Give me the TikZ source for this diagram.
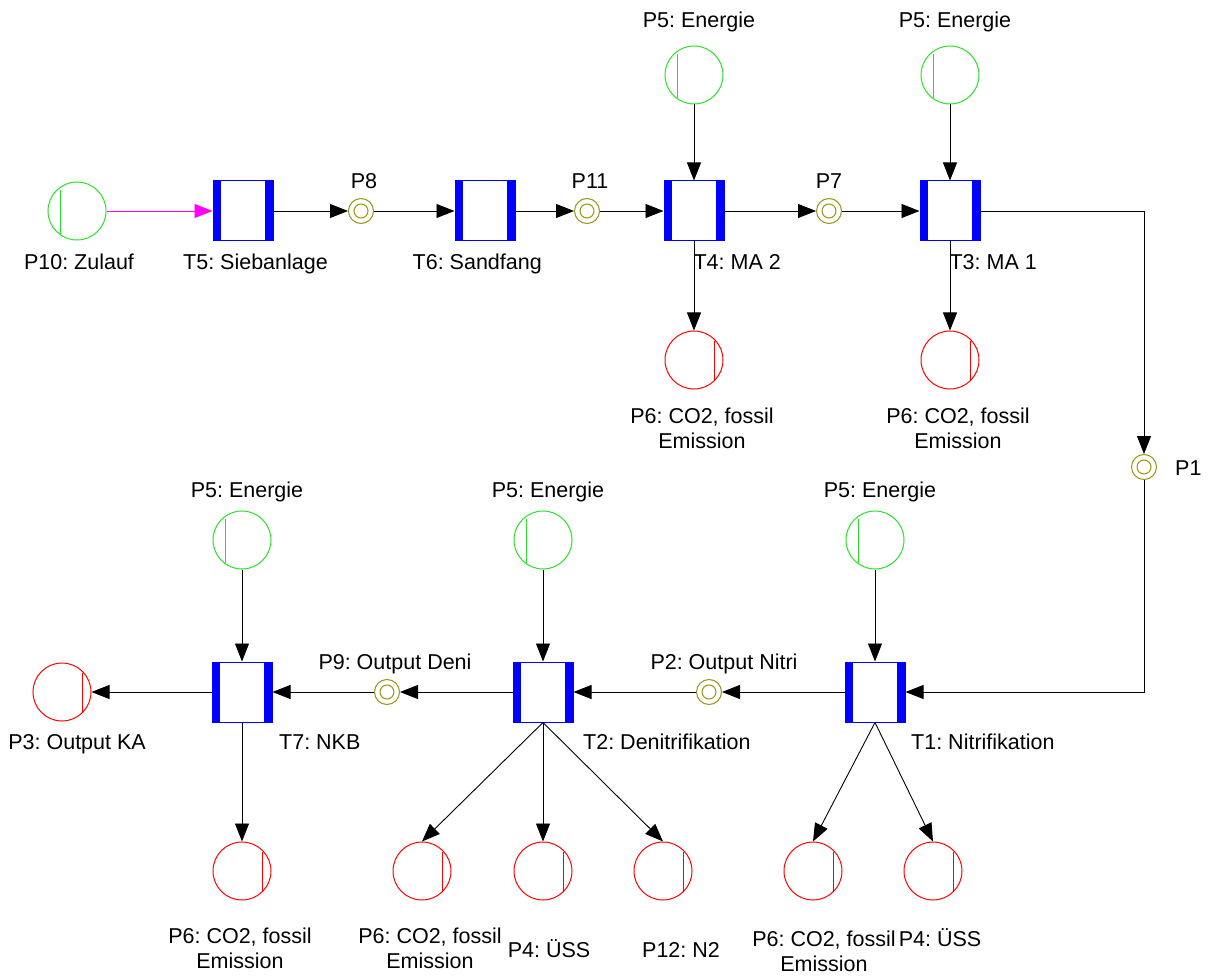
\documentclass[tikz,border=0pt]{standalone}
\usepackage{fontspec}
\setmainfont{Liberation Sans}
\frenchspacing
\usetikzlibrary{arrows.meta}
\definecolor{pgreen}{RGB}{40,225,40}
\definecolor{pred}{RGB}{255,0,0}
\definecolor{polive}{RGB}{150,150,20}
\definecolor{tblue}{RGB}{0,0,255}
\definecolor{pmag}{RGB}{255,0,255}

\begin{document}
\begin{tikzpicture}[x=1pt,y=-1pt,
  every node/.style={font=\fontsize{21.5}{25}\selectfont},
  trans/.style={rectangle, draw=tblue, line width=1pt, fill=white,
    minimum width=60pt, minimum height=60pt, inner sep=0pt,
    path picture={
      \fill[tblue] (path picture bounding box.north west) rectangle ++(8pt,-60pt);
      \fill[tblue] (path picture bounding box.north east) rectangle ++(-8pt,-60pt);}},
  place/.style={circle, line width=1pt, minimum size=58pt, inner sep=0pt},
  srcplace/.style={place, draw=pgreen,
    path picture={\draw[pgreen, line width=1pt] (path picture bounding box.center) ++(-17pt,21pt) -- ++(0pt,-44pt);}},
  sinkplace/.style={place, draw=pred,
    path picture={\draw[pred, line width=1pt] (path picture bounding box.center) ++(20pt,19pt) -- ++(0pt,-44pt);}},
  bufplace/.style={circle, draw=polive, line width=1pt, minimum size=25pt, inner sep=0pt,
    path picture={\draw[polive, line width=1pt] (path picture bounding box.center) circle (7pt);}},
  arc/.style={line width=0.9pt, -{Triangle[length=18pt,width=14pt]}},
  lbl/.style={inner sep=0pt}
]
\useasboundingbox[fill=white] (0,0) rectangle (1208,976);

% ---- transitions ----
\node[trans] (t5) at (243,211) {};
\node[trans] (t6) at (485,211) {};
\node[trans] (t4) at (694,211) {};
\node[trans] (t3) at (950,211) {};
\node[trans] (t1) at (875,692) {};
\node[trans] (t2) at (543,692) {};
\node[trans] (t7) at (242,692) {};

% ---- places ----
\node[srcplace] (p10) at (77,211) {};
\node[srcplace] (p5a) at (694,75) {};
\node[srcplace] (p5b) at (950,75) {};
\node[sinkplace] (p6a) at (694,360) {};
\node[sinkplace] (p6b) at (950,360) {};
\node[bufplace] (p8) at (361,211) {};
\node[bufplace] (p11) at (587,211) {};
\node[bufplace] (p7) at (829,211) {};
\node[bufplace] (p1) at (1144,467) {};
\node[bufplace] (p2) at (709,692) {};
\node[bufplace] (p9) at (387,692) {};
\node[srcplace] (p5c) at (242,540) {};
\node[srcplace] (p5d) at (543,540) {};
\node[srcplace] (p5e) at (875,540) {};
\node[sinkplace] (p3) at (62,692) {};
\node[sinkplace] (p6c) at (242,871) {};
\node[sinkplace] (p6d) at (422,871) {};
\node[sinkplace] (p4a) at (543,871) {};
\node[sinkplace] (p12) at (663,871) {};
\node[sinkplace] (p6e) at (813,871) {};
\node[sinkplace] (p4b) at (933,871) {};

% ---- arcs: upper line ----
\draw[arc, pmag] (p10.east) -- (t5.west);
\draw[arc] (t5.east) -- (p8.west);
\draw[arc] (p8.east) -- (t6.west);
\draw[arc] (t6.east) -- (p11.west);
\draw[arc] (p11.east) -- (t4.west);
\draw[arc] (t4.east) -- (p7.west);
\draw[arc] (p7.east) -- (t3.west);
\draw[arc] (p5a.south) -- (t4.north);
\draw[arc] (p5b.south) -- (t3.north);
\draw[arc] (t4.south) -- (p6a.north);
\draw[arc] (t3.south) -- (p6b.north);
\draw[arc] (t3.east) -| (p1.north);
\draw[arc] (p1.south) |- (t1.east);

% ---- arcs: lower line ----
\draw[arc] (t1.west) -- (p2.east);
\draw[arc] (p2.west) -- (t2.east);
\draw[arc] (t2.west) -- (p9.east);
\draw[arc] (p9.west) -- (t7.east);
\draw[arc] (t7.west) -- (p3.east);
\draw[arc] (p5c.south) -- (t7.north);
\draw[arc] (p5d.south) -- (t2.north);
\draw[arc] (p5e.south) -- (t1.north);
\draw[arc] (t7.south) -- (p6c.north);
\draw[arc] (t2.south) -- (p6d.north);
\draw[arc] (t2.south) -- (p4a.north);
\draw[arc] (t2.south) -- (p12.north);
\draw[arc] (t1.south) -- (p6e.north);
\draw[arc] (t1.south) -- (p4b.north);

% ---- labels ----
\node[lbl, anchor=base] (l-p10) at (79,270) {P10: Zulauf};
\node[lbl, anchor=base east] (l-t5) at (328,270) {T5: Siebanlage};
\node[lbl, anchor=base] (l-p8) at (364,189) {P8};
\node[lbl, anchor=base east] (l-t6) at (542,270) {T6: Sandfang};
\node[lbl, anchor=base] (l-p11) at (590,189) {P11};
\node[lbl, anchor=base east] (l-t4) at (781,270) {T4: MA 2};
\node[lbl, anchor=base] (l-p7) at (829,189) {P7};
\node[lbl, anchor=base east] (l-t3) at (1037,270) {T3: MA 1};
\node[lbl, anchor=base] (l-p5a) at (699,28) {P5: Energie};
\node[lbl, anchor=base] (l-p5b) at (955,28) {P5: Energie};
\node[lbl, align=center] (l-p6a) at (702,428) {P6: CO2, fossil\\Emission};
\node[lbl, align=center] (l-p6b) at (958,428) {P6: CO2, fossil\\Emission};
\node[lbl, anchor=base west] (l-p1) at (1175,475) {P1};
\node[lbl, anchor=base] (l-p5c) at (247,497) {P5: Energie};
\node[lbl, anchor=base] (l-p5d) at (548,497) {P5: Energie};
\node[lbl, anchor=base] (l-p5e) at (880,497) {P5: Energie};
\node[lbl, anchor=base] (l-p2) at (724,669) {P2: Output Nitri};
\node[lbl, anchor=base] (l-p9) at (395,669) {P9: Output Deni};
\node[lbl, anchor=base east] (l-p3) at (146,749) {P3: Output KA};
\node[lbl, anchor=base west] (l-t7) at (279,749) {T7: NKB};
\node[lbl, anchor=base west] (l-t2) at (583,749) {T2: Denitrifikation};
\node[lbl, anchor=base west] (l-t1) at (911,749) {T1: Nitrifikation};
\node[lbl, align=center] (l-p6c) at (240,948) {P6: CO2, fossil\\Emission};
\node[lbl, align=center] (l-p6d) at (430,948) {P6: CO2, fossil\\Emission};
\node[lbl, anchor=base] (l-p4a) at (549,957) {P4: ÜSS};
\node[lbl, anchor=base] (l-p12) at (681,957) {P12: N2};
\node[lbl, align=center] (l-p6e) at (824,951) {P6: CO2, fossil\\Emission};
\node[lbl, anchor=base] (l-p4b) at (940,946) {P4: ÜSS};
\end{tikzpicture}
\end{document}
